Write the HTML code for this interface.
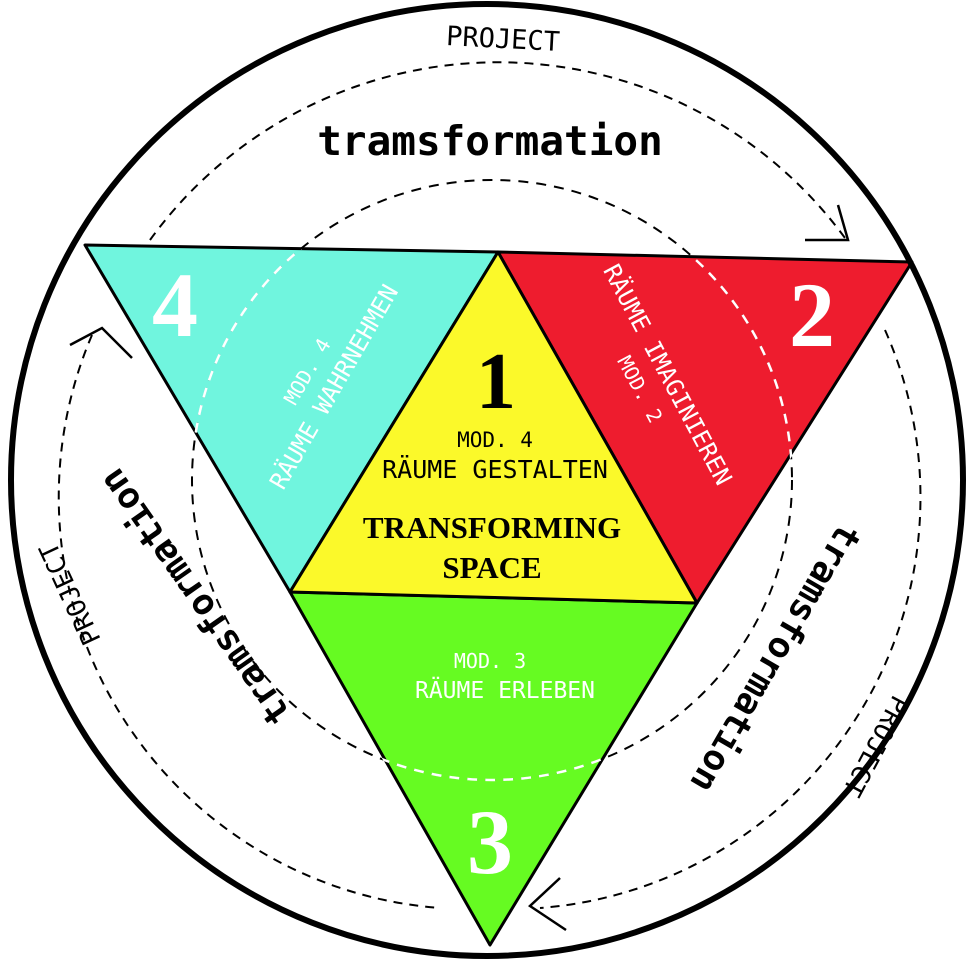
<!DOCTYPE html>
<html><head><meta charset="utf-8"><style>
html,body{margin:0;padding:0;background:#fff;}
svg{display:block;}
.h{font-family:"DejaVu Sans Mono","Liberation Mono",monospace;}
.s{font-family:"Liberation Serif",serif;font-weight:bold;}
</style></head><body>
<svg width="972" height="960" viewBox="0 0 972 960" xmlns="http://www.w3.org/2000/svg">
<polygon points="85,245 498,252 290,592" fill="#70f5de" stroke="#000" stroke-width="3" stroke-linejoin="round"/>
<polygon points="498,252 912,262 697,603" fill="#ee1c2e" stroke="#000" stroke-width="3" stroke-linejoin="round"/>
<polygon points="290,592 697,603 490,945" fill="#66fb22" stroke="#000" stroke-width="3" stroke-linejoin="round"/>
<polygon points="498,252 697,603 290,592" fill="#fbf92a" stroke="#000" stroke-width="3" stroke-linejoin="round"/>
<circle cx="492" cy="480" r="300" fill="none" stroke="#000" stroke-width="2" stroke-dasharray="10,8"/>
<clipPath id="tri"><polygon points="85,245 912,262 490,945"/></clipPath>
<circle cx="492" cy="480" r="300" fill="none" stroke="#fff" stroke-width="2.5" stroke-dasharray="10,8" clip-path="url(#tri)"/>
<circle cx="487" cy="480" r="476" fill="none" stroke="#000" stroke-width="6"/>
<g fill="none" stroke="#000" stroke-width="2" stroke-dasharray="9,7">
<path d="M150,240 A430,430 0 0 1 845,238"/>
<path d="M92,335 A412,412 0 0 0 440,908"/>
<path d="M885,330 A412,412 0 0 1 540,908"/>
</g>
<g fill="none" stroke="#000" stroke-width="2.5">
<path d="M805,240 L848,240 L838,205"/>
<path d="M70,345 L102,328 L132,358"/>
<path d="M560,878 L530,906 L566,930"/>
</g>
<text x="175" y="336" class="s" font-size="92" fill="#fff" text-anchor="middle">4</text>
<text x="812" y="346" class="s" font-size="92" fill="#fff" text-anchor="middle">2</text>
<text x="490" y="873" class="s" font-size="92" fill="#fff" text-anchor="middle">3</text>
<text x="496" y="408" class="s" font-size="80" fill="#000" text-anchor="middle">1</text>
<text x="495" y="447" class="h" font-size="21" text-anchor="middle">MOD. 4</text>
<text x="495" y="478" class="h" font-size="25" text-anchor="middle">RÄUME GESTALTEN</text>
<text x="492" y="538" class="s" font-size="31" text-anchor="middle">TRANSFORMING</text>
<text x="492" y="578" class="s" font-size="31" text-anchor="middle">SPACE</text>
<text x="490" y="668" class="h" font-size="20" fill="#fff" text-anchor="middle">MOD. 3</text>
<text x="505" y="698" class="h" font-size="23" fill="#fff" text-anchor="middle">RÄUME ERLEBEN</text>
<g transform="translate(322,380) rotate(-60)" class="h" fill="#fff" text-anchor="middle">
<text x="0" y="-10" font-size="20">MOD. 4</text>
<text x="0" y="22" font-size="24">RÄUME WAHRNEHMEN</text>
</g>
<g transform="translate(648,385) rotate(62)" class="h" fill="#fff" text-anchor="middle">
<text x="0" y="-14" font-size="24">RÄUME IMAGINIEREN</text>
<text x="0" y="16" font-size="20">MOD. 2</text>
</g>
<text x="503" y="48" class="h" font-size="27" text-anchor="middle" transform="rotate(3 503 40)">PROJECT</text>
<text x="490" y="155" class="h" font-size="41" font-weight="bold" text-anchor="middle">tramsformation</text>
<text x="0" y="0" class="h" font-size="36" font-weight="bold" text-anchor="middle" transform="translate(205,590) rotate(235)">tramsformation</text>
<text x="0" y="0" class="h" font-size="26" text-anchor="middle" transform="translate(78,590) rotate(245)">PROJECT</text>
<text x="0" y="0" class="h" font-size="36" font-weight="bold" text-anchor="middle" transform="translate(765,652) rotate(120)">tramsformation</text>
<text x="0" y="0" class="h" font-size="26" text-anchor="middle" transform="translate(868,742) rotate(118)">PROJECT</text>
</svg>
</body></html>
